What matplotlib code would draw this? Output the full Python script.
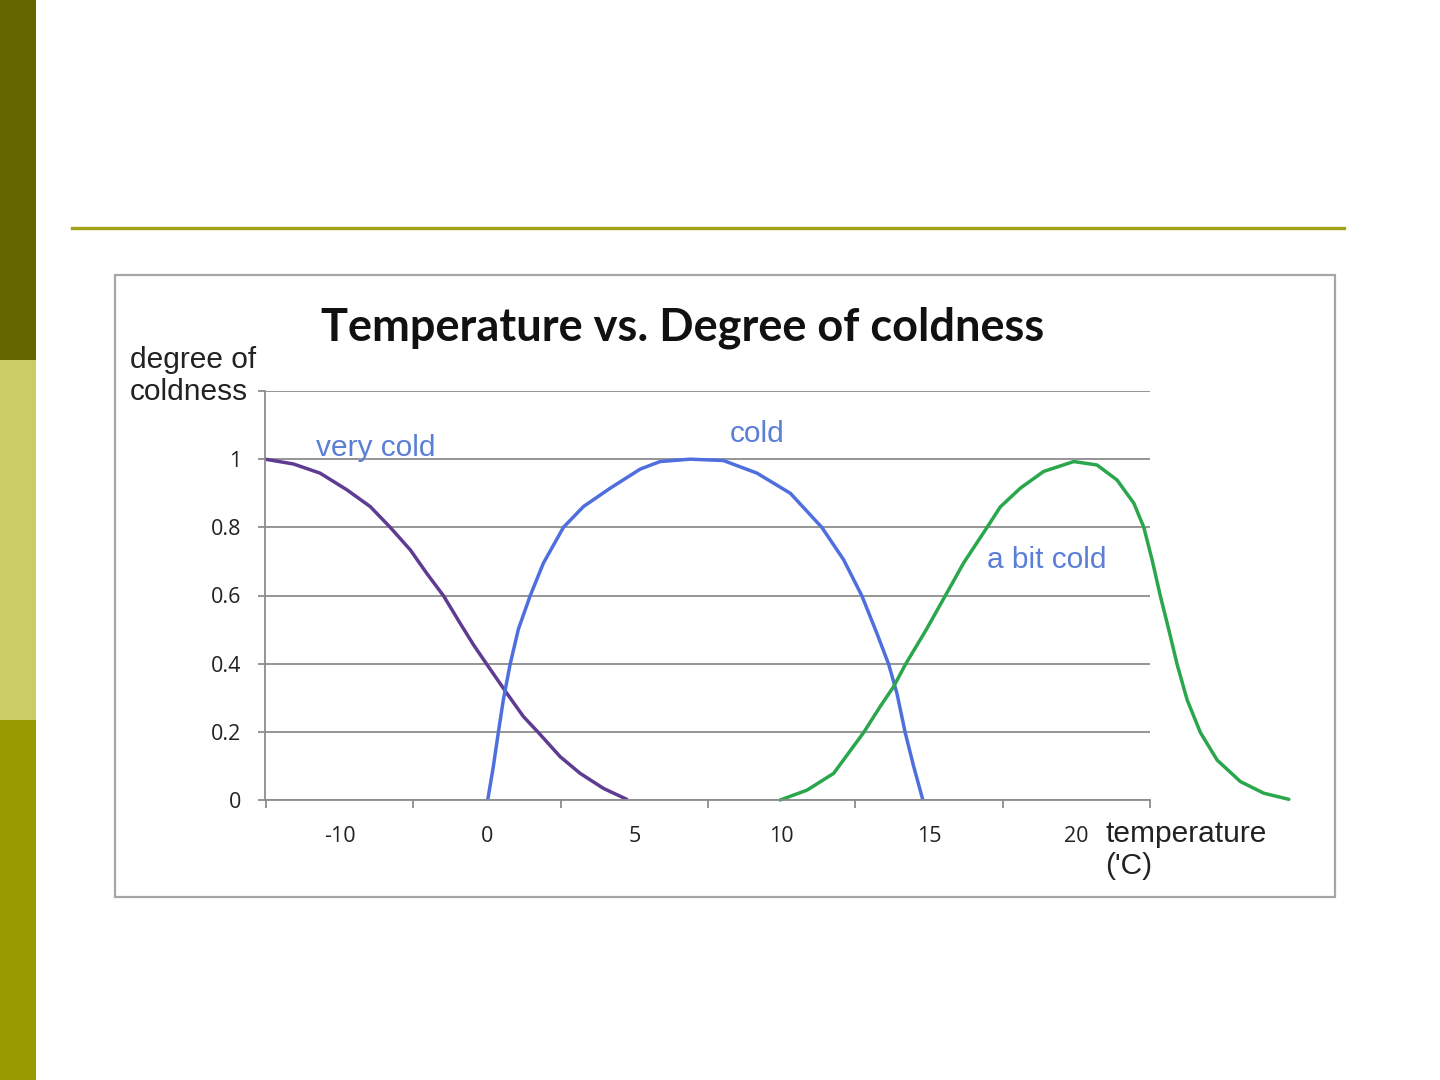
import matplotlib
matplotlib.use("Agg")
import matplotlib.pyplot as plt
from matplotlib.patches import Rectangle
from matplotlib.lines import Line2D

# ---------------- data ----------------
very_cold_x = [-7.54, -6.58, -5.67, -4.76, -3.97, -3.29, -2.61, -2.05, -1.48, -0.92, -0.46,
               -0.01, 0.67, 1.23, 1.74, 2.48, 3.16, 3.95, 4.74]
very_cold_y = [1.0, 0.986, 0.959, 0.91, 0.861, 0.80, 0.734, 0.665, 0.599, 0.519, 0.455,
               0.398, 0.313, 0.245, 0.198, 0.127, 0.078, 0.034, 0.002]

cold_x = [0.02, 0.21, 0.38, 0.55, 0.78, 1.06, 1.46, 1.91, 2.59, 3.27, 4.18, 5.2, 5.87, 6.89,
          8.02, 9.16, 10.29, 11.36, 12.1, 12.72, 13.23, 13.63, 13.91, 14.19, 14.48, 14.79]
cold_y = [0.0, 0.098, 0.198, 0.294, 0.398, 0.501, 0.599, 0.695, 0.80, 0.861, 0.915, 0.971,
          0.993, 1.0, 0.996, 0.959, 0.90, 0.80, 0.705, 0.599, 0.489, 0.398, 0.313, 0.198,
          0.098, 0.0]

bit_cold_x = [9.95, 10.86, 11.76, 12.78, 13.34, 13.8, 14.2, 14.9, 15.55, 16.17, 16.97,
              17.42, 18.1, 18.89, 19.91, 20.7, 21.38, 21.95, 22.29, 22.57, 22.85, 23.14,
              23.42, 23.76, 24.21, 24.78, 25.57, 26.36, 27.21]
bit_cold_y = [0.0, 0.029, 0.078, 0.198, 0.274, 0.333, 0.398, 0.499, 0.599, 0.695, 0.80,
              0.86, 0.915, 0.964, 0.993, 0.983, 0.939, 0.871, 0.80, 0.705, 0.599, 0.499,
              0.398, 0.294, 0.198, 0.117, 0.054, 0.02, 0.002]

x_tick_marks = [-7.5, -2.5, 2.5, 7.5, 12.5, 17.5, 22.5]
x_label_pos = [-5, 0, 5, 10, 15, 20]
x_labels = ["-10", "0", "5", "10", "15", "20"]
y_ticks = [0, 0.2, 0.4, 0.6, 0.8, 1.0, 1.2]
y_labels = ["0", "0.2", "0.4", "0.6", "0.8", "1", ""]

series_names = ["very cold", "cold", "a bit cold"]
title = "Temperature vs. Degree of coldness"

# ---------------- figure ----------------
W, H = 1440, 1080
fig = plt.figure(figsize=(W / 100, H / 100), dpi=100)
fig.patch.set_facecolor("white")


def fx(px):
    return px / W


def fy(py):
    return 1 - py / H


# slide decoration: left bar
for y0, c in [(0, "#666600"), (360, "#cccc66"), (720, "#999900")]:
    fig.patches.append(Rectangle((0, fy(y0 + 360)), fx(36), 360 / H, transform=fig.transFigure,
                                 facecolor=c, edgecolor="none", zorder=-5))
# horizontal rule
fig.lines.append(Line2D([fx(72), fx(1344)], [fy(227.5), fy(227.5)], transform=fig.transFigure,
                        color="#a3a31a", lw=2.4, zorder=-5))
# chart frame
fig.patches.append(Rectangle((fx(115), fy(897)), (1335 - 115) / W, (897 - 275) / H,
                             transform=fig.transFigure, facecolor="none",
                             edgecolor="#a6a6a6", lw=1.6, zorder=-5))

# plot area
ax = fig.add_axes([fx(265), fy(800), (1150 - 265) / W, (800 - 391) / H])
ax.set_facecolor("none")
ax.set_xlim(-7.54, 22.5)
ax.set_ylim(0, 1.2)

grid_c = "#8c8c8c"
for s in ["top", "right"]:
    ax.spines[s].set_visible(False)
for s in ["left", "bottom"]:
    ax.spines[s].set_color(grid_c)
    ax.spines[s].set_linewidth(1.3)

ax.set_yticks(y_ticks)
ax.set_yticklabels(y_labels)
ax.yaxis.grid(True, color=grid_c, lw=1.3)
ax.set_axisbelow(True)
ax.tick_params(axis="y", direction="out", length=5, width=1.3, color=grid_c, pad=12,
               labelsize=15.5, labelcolor="#222222")

ax.set_xticks(x_tick_marks)
ax.set_xticklabels([""] * len(x_tick_marks))
ax.set_xticks(x_label_pos, minor=True)
ax.set_xticklabels(x_labels, minor=True)
ax.tick_params(axis="x", which="major", direction="out", length=6, width=1.3, color=grid_c)
ax.tick_params(axis="x", which="minor", length=0, pad=19, labelsize=15.5, labelcolor="#222222")

for lab in ax.get_yticklabels() + ax.get_xticklabels(minor=True):
    lab.set_family("Open Sans")

kw = dict(lw=2.5, solid_capstyle="round", solid_joinstyle="round")
ax.plot(very_cold_x, very_cold_y, color="#5e3c92", **kw)
ax.plot(cold_x, cold_y, color="#4f6fdf", **kw)
ax.plot(bit_cold_x, bit_cold_y, color="#2aa64c", clip_on=False, **kw)

lab_c = "#5b7ed6"
ax.text(-3.77, 1.033, series_names[0], color=lab_c, fontsize=21.5, family="Liberation Sans",
        ha="center", va="center")
ax.text(9.17, 1.074, series_names[1], color=lab_c, fontsize=21.5, family="Liberation Sans",
        ha="center", va="center")
ax.text(19.0, 0.704, series_names[2], color=lab_c, fontsize=21.5, family="Liberation Sans",
        ha="center", va="center")

fig.text(fx(683), fy(328), title, fontsize=32.5, fontweight="bold", family="Lato",
         ha="center", va="center", color="#111111")
fig.text(fx(130), fy(376), "degree of\ncoldness", fontsize=21.5, family="Liberation Sans",
         ha="left", va="center", color="#222222", linespacing=1.18)
fig.text(fx(1105), fy(850), "temperature\n('C)", fontsize=21.5, family="Liberation Sans",
         ha="left", va="center", color="#222222", linespacing=1.18)

fig.savefig("out.png", dpi=100)
